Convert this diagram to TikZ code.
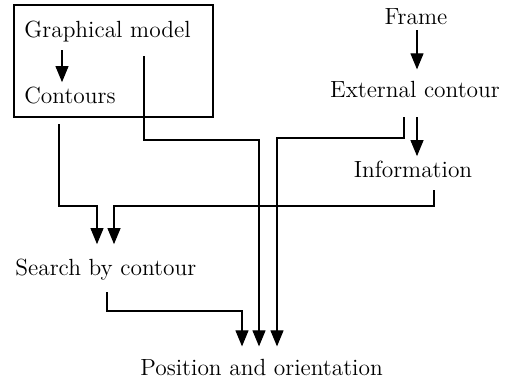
\documentclass[tikz,border=0pt]{standalone}
\usepackage{amsmath}
\usepackage{xcolor}
\usepackage{tikz}
\usetikzlibrary{arrows.meta}
\usetikzlibrary{calc}

\begin{document}
\begin{tikzpicture}[x=0.5pt,y=-0.5pt,
        lbl/.style={inner sep=0pt,font=\fontsize{11.7}{14}\selectfont},
        arr/.style={-{Triangle[length=8pt,width=6.5pt]},line width=0.55pt}]
        \useasboundingbox (0,0) rectangle (512,382);

        \node[lbl,anchor=base west] (gm) at (24,37) {Graphical model};
        \node[lbl,anchor=base west] (cont) at (24,103) {Contours};
        \draw[line width=0.55pt] (14,5) rectangle (213,117);
        \node[lbl,anchor=base] (frame) at (416,24) {Frame};
        \node[lbl,anchor=base] (ext) at (415,97) {External contour};
        \node[lbl,anchor=base] (info) at (413,177) {Information};
        \node[lbl,anchor=base west] (search) at (15,275) {Search by contour};
        \node[lbl,anchor=base west] (pos) at (140,375) {Position and orientation};

        \draw[arr] ($(gm.base -| 62,0)+(0,13)$)--($(cont.north -| 62,0)+(0,-4)$);
        \draw[arr] ($(frame.base -| 417,0)+(0,6)$)--($(ext.north -| 417,0)+(0,-11)$);
        \draw[arr] ($(ext.base -| 417,0)+(0,20)$)--($(info.north -| 417,0)+(0,-4)$);

        \draw[arr] ($(cont.base -| 59,0)+(0,21)$)--(59,206)-|($(search.north -| 97,0)+(0,-14)$);
        \draw[arr] ($(info.base -| 434,0)+(0,13)$)--(434,206)-|($(search.north -| 114,0)+(0,-14)$);
        \draw[arr] ($(search.base -| 107,0)+(0,17)$)--(107,311)-|($(pos.north -| 242,0)+(0,-12)$);
        \draw[arr] ($(gm.base -| 144,0)+(0,19)$)--(144,140)-|($(pos.north -| 259,0)+(0,-12)$);
        \draw[arr] ($(ext.base -| 404,0)+(0,20)$)--(404,138)-|($(pos.north -| 277,0)+(0,-12)$);
    \end{tikzpicture}
\end{document}
